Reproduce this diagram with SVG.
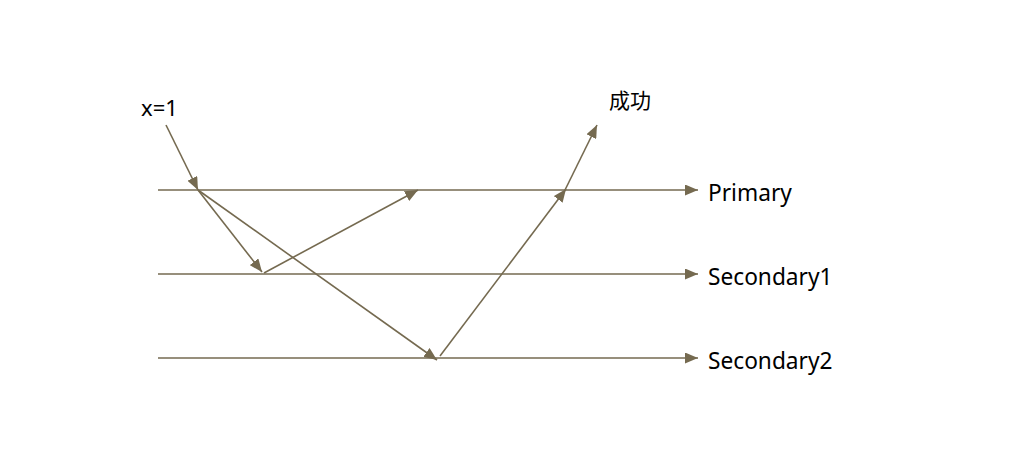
<svg xmlns="http://www.w3.org/2000/svg" width="1034" height="460" viewBox="0 0 1034 460">
<defs>
<marker id="ah" markerWidth="13" markerHeight="11" refX="13" refY="5.5" orient="auto" markerUnits="userSpaceOnUse">
<path d="M0,0 L13,5.5 L0,11 Z" fill="#756a50"/>
</marker>
<style>
.ln{stroke:#756a50;stroke-width:1.6;fill:none;marker-end:url(#ah)}
.lb{font-family:"Noto Sans","Noto Sans CJK SC",sans-serif;font-size:21px;fill:#000}
.tl{font-size:22.7px}
</style>
</defs>
<rect width="1034" height="460" fill="#fff"/>
<g id="timelines">
<g id="primary"><line class="ln" x1="158" y1="190" x2="698" y2="190"/><text class="lb tl" x="708" y="201">Primary</text></g>
<g id="secondary1"><line class="ln" x1="158" y1="274" x2="698" y2="274"/><text class="lb tl" x="708" y="285">Secondary1</text></g>
<g id="secondary2"><line class="ln" x1="158" y1="358" x2="698" y2="358"/><text class="lb tl" x="708" y="369">Secondary2</text></g>
</g>
<g id="labels">
<text class="lb" x="141" y="116" style="font-size:22px">x=1</text>
<text class="lb" x="609" y="108">成功</text>
</g>
<g id="connectors">
<line class="ln" x1="166" y1="125" x2="198" y2="190"/>
<line class="ln" x1="198" y1="190" x2="262" y2="272"/>
<line class="ln" x1="198" y1="190" x2="437" y2="360"/>
<line class="ln" x1="264" y1="273" x2="418" y2="190"/>
<line class="ln" x1="440" y1="356" x2="566" y2="189"/>
<line class="ln" x1="565" y1="190" x2="597" y2="125"/>
</g>
</svg>
